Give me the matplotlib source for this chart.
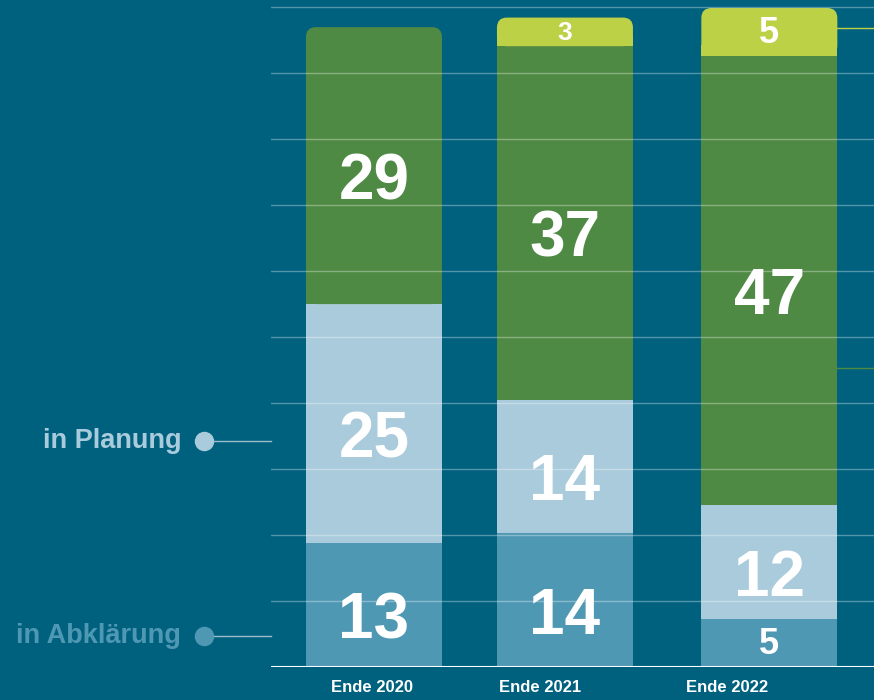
import numpy as np
import matplotlib
matplotlib.use("Agg")
import matplotlib.pyplot as plt
from matplotlib.patches import FancyBboxPatch

# data
years = ["Ende 2020", "Ende 2021", "Ende 2022"]
abklaerung = [13, 14, 5]
planung = [25, 14, 12]
bau = [29, 37, 47]
betrieb = [0, 3, 5]
legend_left = ["in Planung", "in Abklärung"]

# layout / styles
bg = "#00617f"
c_abkl = "#4f98b4"
c_plan = "#a9cbdb"
c_bau = "#4f8a44"
c_betr = "#bdd146"
xpos = np.array([0, 1, 2.07])
label_x = [-0.01, 0.87, 1.85]
width = 0.712
ymax = 69.84
grid_step = 6.91
left_label_y = [23.7, 3.25]
right_line_y = [66.9, 31.3]

plt.rcParams["font.family"] = ["Liberation Sans", "DejaVu Sans"]

fig = plt.figure(figsize=(8.74, 7), dpi=100, facecolor=bg)
ax = fig.add_axes([271 / 874, 33 / 700, 603 / 874, 667 / 700])
ax.set_facecolor(bg)
ax.set_xlim(-0.539, 2.618)
ax.set_ylim(0, ymax)
for s in ax.spines.values():
    s.set_visible(False)
ax.set_yticks([])

# px per data unit, to keep rounded corners circular
px_x = 603 / (2.618 + 0.539)
px_y = 667 / ymax
aspect = px_x / px_y
r_px = 10
rx = r_px / px_x

segments = [(abklaerung, c_abkl), (planung, c_plan), (bau, c_bau), (betrieb, c_betr)]
for i in range(len(years)):
    vals = [seg[0][i] for seg in segments]
    cols = [seg[1] for seg in segments]
    top_idx = max(k for k, v in enumerate(vals) if v > 0)
    bottom = 0
    for k, (v, col) in enumerate(zip(vals, cols)):
        if v <= 0:
            continue
        x0 = xpos[i] - width / 2
        if k == top_idx:
            box = FancyBboxPatch((x0, bottom), width, v,
                                 boxstyle=f"round,pad=0,rounding_size={rx}",
                                 mutation_aspect=aspect, fc=col, ec="none", zorder=2)
            ax.add_patch(box)
            ax.bar(xpos[i], min(v, rx * aspect + 0.1), width, bottom=bottom,
                   color=col, zorder=2, linewidth=0)
        else:
            ax.bar(xpos[i], v, width, bottom=bottom, color=col, zorder=2, linewidth=0)
        mid = bottom + v / 2
        if v >= 10:
            ax.annotate(str(v), (xpos[i], mid), xytext=(0, -12), textcoords="offset points",
                        ha="center", va="center", color="white", fontsize=46,
                        fontweight="bold", zorder=5)
        else:
            fs = 26 if v >= 5 else 19
            ax.annotate(str(v), (xpos[i], mid), xytext=(0, -1), textcoords="offset points",
                        ha="center", va="center", color="white",
                        fontsize=fs, fontweight="bold", zorder=5)
        bottom += v

# grid lines over the bars
for g in np.arange(1, 11) * grid_step:
    ax.axhline(g, color="white", alpha=0.33, lw=1, zorder=3)
ax.axhline(0, color="white", lw=1.5, zorder=4)

# x labels
ax.set_xticks(label_x)
ax.set_xticklabels(years, color="white", fontsize=12, fontweight="bold")
ax.tick_params(axis="x", length=0, pad=9)

# left legend
tr = ax.get_yaxis_transform()
for lab, y, col in zip(legend_left, left_label_y, [c_plan, c_abkl]):
    ax.plot([-0.111, 0], [y, y], transform=tr, color="#9fbccb", lw=1, clip_on=False, zorder=1)
    ax.plot([-0.111], [y], "o", transform=tr, color=col, ms=13, clip_on=False, zorder=2)
    ax.text(-0.149, y, lab, transform=tr, ha="right", va="center", color=col,
            fontsize=19.5, fontweight="bold")

# leader lines to the right
x_r = xpos[2] + width / 2
ax.plot([x_r, 2.618], [right_line_y[0]] * 2, color=c_betr, lw=1, zorder=3)
ax.plot([x_r, 2.618], [right_line_y[1]] * 2, color=c_bau, lw=1, zorder=3)

fig.savefig("out.png", dpi=100, facecolor=bg)
